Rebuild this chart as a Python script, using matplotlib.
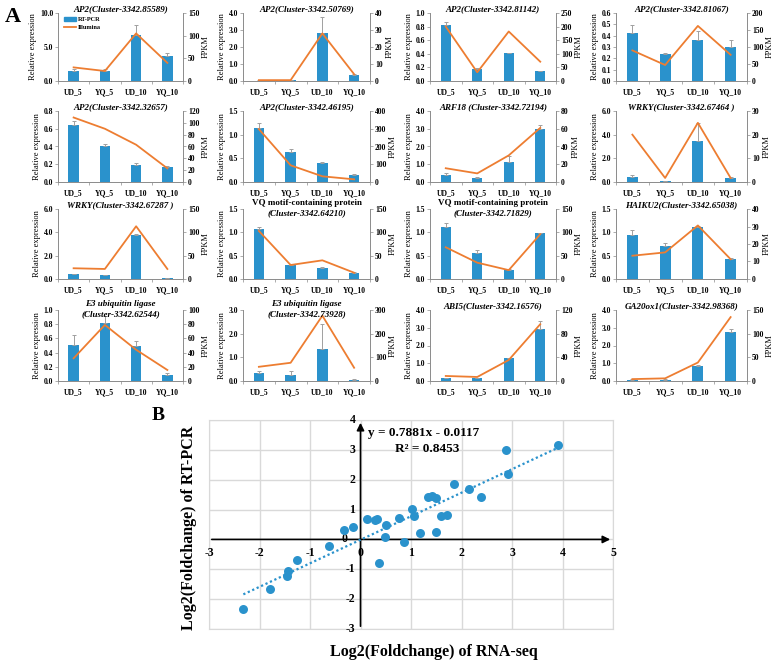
import numpy as np
import matplotlib
matplotlib.use("Agg")
import matplotlib.pyplot as plt
from matplotlib.patches import Patch
from matplotlib.lines import Line2D

# ---- panel A data ----
samples = ["UD_5", "YQ_5", "UD_10", "YQ_10"]

titles = [
    "AP2(Cluster-3342.85589)", "AP2(Cluster-3342.50769)",
    "AP2(Cluster-3342.81142)", "AP2(Cluster-3342.81067)",
    "AP2(Cluster-3342.32657)", "AP2(Cluster-3342.46195)",
    "ARF18 (Cluster-3342.72194)", "WRKY(Cluster-3342.67464 )",
    "WRKY(Cluster-3342.67287 )", "VQ motif-containing protein\n(Cluster-3342.64210)",
    "VQ motif-containing protein\n(Cluster-3342.71829)", "HAIKU2(Cluster-3342.65038)",
    "E3 ubiquitin ligase\n(Cluster-3342.62544)", "E3 ubiquitin ligase\n(Cluster-3342.73928)",
    "ABI5(Cluster-3342.16576)", "GA20ox1(Cluster-3342.98368)",
]

rel_expr = [
    [1.4, 1.5, 6.8, 3.7], [0.02, 0.05, 2.8, 0.35],
    [0.82, 0.18, 0.41, 0.14], [0.42, 0.24, 0.36, 0.30],
    [0.64, 0.40, 0.19, 0.17], [1.14, 0.63, 0.40, 0.14],
    [0.42, 0.25, 1.10, 3.00], [0.45, 0.10, 3.45, 0.35],
    [0.42, 0.30, 3.80, 0.08], [1.07, 0.29, 0.24, 0.13],
    [1.12, 0.55, 0.20, 0.98], [0.95, 0.71, 1.12, 0.42],
    [0.51, 0.81, 0.49, 0.09], [0.33, 0.25, 1.37, 0.06],
    [0.15, 0.15, 1.27, 2.95], [0.08, 0.08, 0.87, 2.78],
]

rel_err = [
    [0.3, 0.2, 1.4, 0.35], [0.01, 0.02, 0.95, 0.05],
    [0.05, 0.01, 0.005, 0.01], [0.07, 0.005, 0.08, 0.06],
    [0.05, 0.03, 0.02, 0.01], [0.10, 0.07, 0.02, 0.03],
    [0.10, 0.05, 0.35, 0.20], [0.10, 0.01, 1.50, 0.05],
    [0.05, 0.05, 0.02, 0.02], [0.05, 0.01, 0.01, 0.01],
    [0.08, 0.08, 0.01, 0.01], [0.10, 0.07, 0.02, 0.03],
    [0.14, 0.10, 0.08, 0.02], [0.10, 0.17, 1.05, 0.04],
    [0.02, 0.02, 0.03, 0.45], [0.01, 0.01, 0.04, 0.15],
]

fpkm = [
    [30, 22, 105, 40], [0.5, 0.5, 28, 4],
    [200, 32, 182, 71], [90, 47, 162, 77],
    [109, 90, 63, 23], [298, 94, 32, 15],
    [15.5, 9.7, 30, 61], [20, 1.7, 25, 1.7],
    [23, 21.5, 113, 21.5], [103, 30, 40, 13.5],
    [68, 35, 19, 96], [13.3, 15.2, 30.6, 11.3],
    [32, 79, 44, 15.5], [60, 77, 276, 56],
    [8.5, 6.8, 35.5, 96], [4, 5.6, 39, 135],
]

left_max = [10, 4, 1.0, 0.6, 0.8, 1.5, 4, 6, 6, 1.5, 1.5, 1.5, 1.0, 3, 4, 4]
left_step = [5, 1, 0.2, 0.1, 0.2, 0.5, 1, 2, 2, 0.5, 0.5, 0.5, 0.2, 1, 1, 1]
right_max = [150, 40, 250, 200, 120, 400, 80, 30, 150, 150, 150, 40, 100, 300, 120, 150]
right_step = [50, 10, 50, 50, 20, 100, 20, 10, 50, 50, 50, 10, 20, 100, 40, 50]

# ---- panel B data ----
rna_seq = [-2.32, -1.79, -1.45, -1.43, -1.25, -0.63, -0.33, -0.15, 0.13, 0.28, 0.33,
           0.37, 0.50, 0.49, 0.77, 0.86, 1.01, 1.05, 1.18, 1.33, 1.42, 1.50, 1.50,
           1.60, 1.71, 1.85, 2.14, 2.39, 2.88, 2.92, 3.92]
rt_pcr = [-2.32, -1.66, -1.22, -1.06, -0.68, -0.21, 0.31, 0.40, 0.67, 0.64, 0.69,
          -0.78, 0.49, 0.08, 0.71, -0.07, 1.01, 0.80, 0.23, 1.42, 1.47, 1.39, 0.26,
          0.80, 0.83, 1.86, 1.70, 1.43, 2.98, 2.19, 3.16]
slope, intercept, r2 = 0.7881, -0.0117, 0.8453

BLUE = "#2A92CC"
ORANGE = "#ED7D31"
GREY = "#8C8C8C"

plt.rcParams['font.family'] = ['Liberation Serif', 'DejaVu Serif']
plt.rcParams['font.weight'] = 'bold'

W, H = 775, 666
fig = plt.figure(figsize=(W / 100, H / 100), dpi=100)


def px_axes(l, t, r, b):
    return fig.add_axes([l / W, 1 - b / H, (r - l) / W, (b - t) / H])


def px_text(x, y, s, **kw):
    fig.text(x / W, 1 - y / H, s, **kw)


col_px = [(58, 183), (243, 370), (430, 556), (616, 747)]
row_px = [(13, 81), (111, 182), (209, 279), (310, 381)]

x = np.arange(4)
for i in range(16):
    r, c = divmod(i, 4)
    l, rr = col_px[c]
    t, b = row_px[r]
    ax = px_axes(l, t, rr, b)
    ax2 = ax.twinx()

    ax.bar(x, rel_expr[i], width=0.33, color=BLUE, zorder=2)
    ax.errorbar(x, rel_expr[i], yerr=[np.zeros(4), rel_err[i]], fmt='none',
                ecolor='#A0A0A0', elinewidth=0.7, capsize=1.5, capthick=0.7, zorder=3)
    ax2.plot(x, fpkm[i], color=ORANGE, lw=1.3)

    ax.set_xlim(-0.5, 3.5)
    ax.set_ylim(0, left_max[i])
    ax2.set_ylim(0, right_max[i])
    lt = np.arange(0, left_max[i] + left_step[i] / 2, left_step[i])
    rt = np.arange(0, right_max[i] + right_step[i] / 2, right_step[i])
    ax.set_yticks(lt)
    ax.set_yticklabels([f"{v:.1f}" for v in lt])
    ax2.set_yticks(rt)
    ax2.set_yticklabels([f"{int(round(v))}" for v in rt])

    ax.set_xticks(x)
    ax.set_xticklabels(samples)
    ax.set_xticks(np.arange(-0.5, 4, 1), minor=True)
    ax.tick_params(axis='x', which='major', length=0, labelsize=5.5, pad=5)
    ax.tick_params(axis='x', which='minor', length=2, width=0.5, color=GREY)
    ax.tick_params(axis='y', length=2, width=0.5, color=GREY, labelsize=5.5, pad=1.5)
    ax2.tick_params(axis='y', length=2, width=0.5, color=GREY, labelsize=5.5, pad=1.5)

    for a in (ax, ax2):
        a.spines['top'].set_visible(False)
        for s in ('left', 'right', 'bottom'):
            a.spines[s].set_color(GREY)
            a.spines[s].set_linewidth(0.6)

    ax.set_ylabel("Relative expression", fontsize=6, labelpad=2)
    ax2.set_ylabel("FPKM", fontsize=6, labelpad=2)

    cx = (l + rr) / 2
    lines = titles[i].split("\n")
    if len(lines) == 1:
        px_text(cx, t - 3.5, lines[0], ha='center', va='center', fontsize=6.5, style='italic')
    else:
        st1 = 'normal' if lines[0].startswith("VQ") else 'italic'
        px_text(cx, t - 6, lines[0], ha='center', va='center', fontsize=6.5, style=st1)
        px_text(cx, t + 4, lines[1], ha='center', va='center', fontsize=6.5, style='italic')

    if i == 0:
        handles = [Patch(color=BLUE, label="RT-PCR"),
                   Line2D([0], [0], color=ORANGE, lw=1.3, label="Illumina")]
        ax.legend(handles=handles, loc='upper left', bbox_to_anchor=(0.02, 1.0),
                  frameon=False, fontsize=4.5, handlelength=1.8, handleheight=0.7,
                  borderaxespad=0.2, labelspacing=0.4, handletextpad=0.4)

px_text(13, 17, "A", ha='center', va='center', fontsize=16, weight='bold')

# ---- panel B ----
axs = px_axes(209, 420, 613, 629)
axs.set_xlim(-3, 5)
axs.set_ylim(-3, 4)
axs.set_xticks(range(-3, 6))
axs.set_yticks(range(-3, 5))
axs.grid(True, color='#D9D9D9', lw=1)
axs.set_axisbelow(True)
axs.tick_params(length=0, labelbottom=False, labelleft=False)
for s in axs.spines.values():
    s.set_color('#D9D9D9')

axs.annotate('', xy=(5, 0), xytext=(-3, 0),
             arrowprops=dict(arrowstyle='-|>', color='black', lw=1.2, mutation_scale=11))
axs.annotate('', xy=(0, 4), xytext=(0, -3),
             arrowprops=dict(arrowstyle='-|>', color='black', lw=1.2, mutation_scale=11))

for v in range(-3, 6):
    axs.text(v, -0.45, str(v), ha='center', va='center', fontsize=8.5)
for v in range(-3, 5):
    if v == 0:
        continue
    axs.text(-0.1, v, str(v), ha='right', va='center', fontsize=8.5)
axs.text(-0.25, 0.0, "0", ha='right', va='center', fontsize=8.5)

xl = np.array([min(rna_seq), max(rna_seq)])
axs.plot(xl, slope * xl + intercept, ls=(0, (1, 1.2)), color=BLUE, lw=1.6, zorder=3)
axs.scatter(rna_seq, rt_pcr, s=42, color=BLUE, zorder=4, linewidths=0)

px_text(368, 433, f"y = {slope}x - {abs(intercept)}", ha='left', va='center', fontsize=9.5)
px_text(395, 449, f"R² = {r2}", ha='left', va='center', fontsize=9.5)

px_text(434, 652, "Log2(Foldchange) of RNA-seq", ha='center', va='center', fontsize=11.5)
px_text(189, 528, "Log2(Foldchange) of RT-PCR", ha='center', va='center', fontsize=11.5,
        rotation=90)
px_text(158, 415, "B", ha='center', va='center', fontsize=14)

fig.savefig("out.png", dpi=100)
